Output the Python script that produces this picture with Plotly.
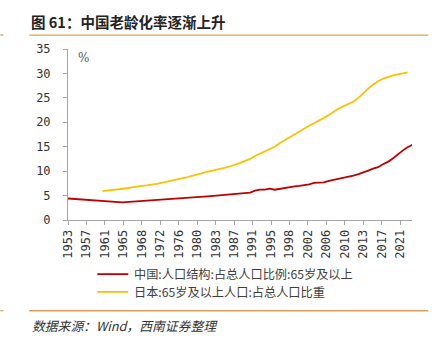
import plotly.graph_objects as go

# 65+ population share, %
CHINA_YEARS = [1953, 1964, 1982, 1987, 1990, 1991, 1992, 1993, 1994, 1995, 1996, 1997,
               1998, 1999, 2000, 2001, 2002, 2003, 2004, 2005, 2006, 2007, 2008, 2009,
               2010, 2011, 2012, 2013, 2014, 2015, 2016, 2017, 2018, 2019, 2020, 2021,
               2022, 2023]
CHINA_VALUES = [4.4, 3.6, 4.9, 5.4, 5.6, 6.0, 6.2, 6.2, 6.4, 6.2, 6.4, 6.5,
                6.7, 6.9, 7.0, 7.1, 7.3, 7.6, 7.6, 7.7, 8.0, 8.2, 8.4, 8.6,
                8.9, 9.1, 9.4, 9.7, 10.1, 10.5, 10.8, 11.4, 11.9, 12.6, 13.5, 14.2,
                14.9, 15.4]

JAPAN_YEARS = list(range(1960, 2023))
JAPAN_VALUES = [5.9, 6.0, 6.1, 6.2, 6.3, 6.5, 6.7, 6.9, 7.0, 7.1,
                7.2, 7.4, 7.6, 7.8, 8.1, 8.3, 8.5, 8.7, 9.0, 9.2,
                9.5, 9.8, 10.0, 10.2, 10.4, 10.7, 11.0, 11.3, 11.7, 12.1,
                12.5, 13.1, 13.6, 14.0, 14.5, 15.0, 15.7, 16.3, 17.0, 17.6,
                18.1, 18.7, 19.3, 19.8, 20.3, 20.9, 21.5, 22.2, 22.8, 23.3,
                23.7, 24.2, 25.0, 26.0, 26.9, 27.7, 28.4, 28.9, 29.3, 29.6,
                29.8, 30.0, 30.2]

SERIES_NAMES = ["中国:人口结构:占总人口比例:65岁及以上", "日本:65岁及以上人口:占总人口比重"]
SERIES_COLORS = ["#C00000", "#FFC000"]

X_TICK_LABELS = ["1953", "1957", "1961", "1965", "1968", "1972", "1976", "1980", "1983",
                 "1987", "1991", "1995", "1998", "2002", "2006", "2010", "2013", "2017", "2021"]
Y_TICKS = [0, 5, 10, 15, 20, 25, 30, 35]

TITLE = "图 61：中国老龄化率逐渐上升"
SOURCE = "数据来源：Wind，西南证券整理"

W, H = 447, 345
L, R, T, B = 67.7, 35.3, 49, 124.5
PW, PH = W - L - R, H - T - B

TICK_STEP = 3.75  # date-axis tick interval in years
tickvals = [1953 + TICK_STEP * i for i in range(len(X_TICK_LABELS))]


def px(x):
    return (x - L) / PW


def py(y):
    return (H - B - y) / PH


fig = go.Figure()
fig.add_trace(go.Scatter(x=CHINA_YEARS, y=CHINA_VALUES, mode="lines", name=SERIES_NAMES[0],
                         line=dict(color=SERIES_COLORS[0], width=1.8)))
fig.add_trace(go.Scatter(x=JAPAN_YEARS, y=JAPAN_VALUES, mode="lines", name=SERIES_NAMES[1],
                         line=dict(color=SERIES_COLORS[1], width=1.8)))

mono = "DejaVu Sans Mono"
fig.update_layout(
    width=W, height=H,
    margin=dict(l=L, r=R, t=T, b=B),
    paper_bgcolor="white", plot_bgcolor="white",
    showlegend=False,
    font=dict(family="Noto Sans CJK SC", color="#333333"),
    xaxis=dict(range=[1953, 2022.9], tickvals=tickvals, ticktext=X_TICK_LABELS,
               tickangle=-90, tickfont=dict(family=mono, size=12, color="#333333"),
               showgrid=False, zeroline=False, showline=True, linecolor="#a6a6a6",
               linewidth=1, ticks="outside", ticklen=4, tickcolor="#a6a6a6"),
    yaxis=dict(range=[0, 35], tickvals=Y_TICKS, tickfont=dict(family=mono, size=12, color="#333333"),
               showgrid=False, zeroline=False, showline=True, linecolor="#a6a6a6",
               linewidth=1, ticks="outside", ticklen=4, tickcolor="#a6a6a6",
               ticklabelstandoff=10),
)

LEGEND_ROWS = (274.8, 292.6)

shapes = []
# rules above and below the chart body
for yy in (35, 311.5):
    shapes.append(dict(type="line", xref="paper", yref="paper", x0=px(29), x1=px(428),
                       y0=py(yy), y1=py(yy), line=dict(color="#D9A05B", width=1.3)))
    shapes.append(dict(type="line", xref="paper", yref="paper", x0=px(0), x1=px(3),
                       y0=py(yy), y1=py(yy), line=dict(color="#D9A05B", width=1.3)))
# legend swatches
for yy, col in zip(LEGEND_ROWS, SERIES_COLORS):
    shapes.append(dict(type="line", xref="paper", yref="paper", x0=px(97), x1=px(128),
                       y0=py(yy), y1=py(yy), line=dict(color=col, width=1.8)))
fig.update_layout(shapes=shapes)

annotations = [
    dict(text="<b>" + TITLE + "</b>", xref="paper", yref="paper", x=px(29), y=py(21),
         xanchor="left", yanchor="middle", showarrow=False,
         font=dict(family="Noto Sans CJK SC", size=14.5, color="#222222")),
    dict(text="<i>" + SOURCE + "</i>", xref="paper", yref="paper", x=px(30), y=py(326),
         xanchor="left", yanchor="middle", showarrow=False,
         font=dict(family="Noto Sans CJK SC", size=12.8, color="#333333")),
    dict(text="%", xref="paper", yref="paper", x=px(76), y=py(58),
         xanchor="left", yanchor="middle", showarrow=False,
         font=dict(family="DejaVu Serif", size=12, color="#555555")),
]
for name, yy in zip(SERIES_NAMES, LEGEND_ROWS):
    annotations.append(dict(text=name, xref="paper", yref="paper", x=px(133), y=py(yy),
                            xanchor="left", yanchor="middle", showarrow=False,
                            borderpad=0,
                            font=dict(family="Noto Sans CJK SC", size=12.2, color="#404040")))
fig.update_layout(annotations=annotations)

fig.write_html("out.html")
